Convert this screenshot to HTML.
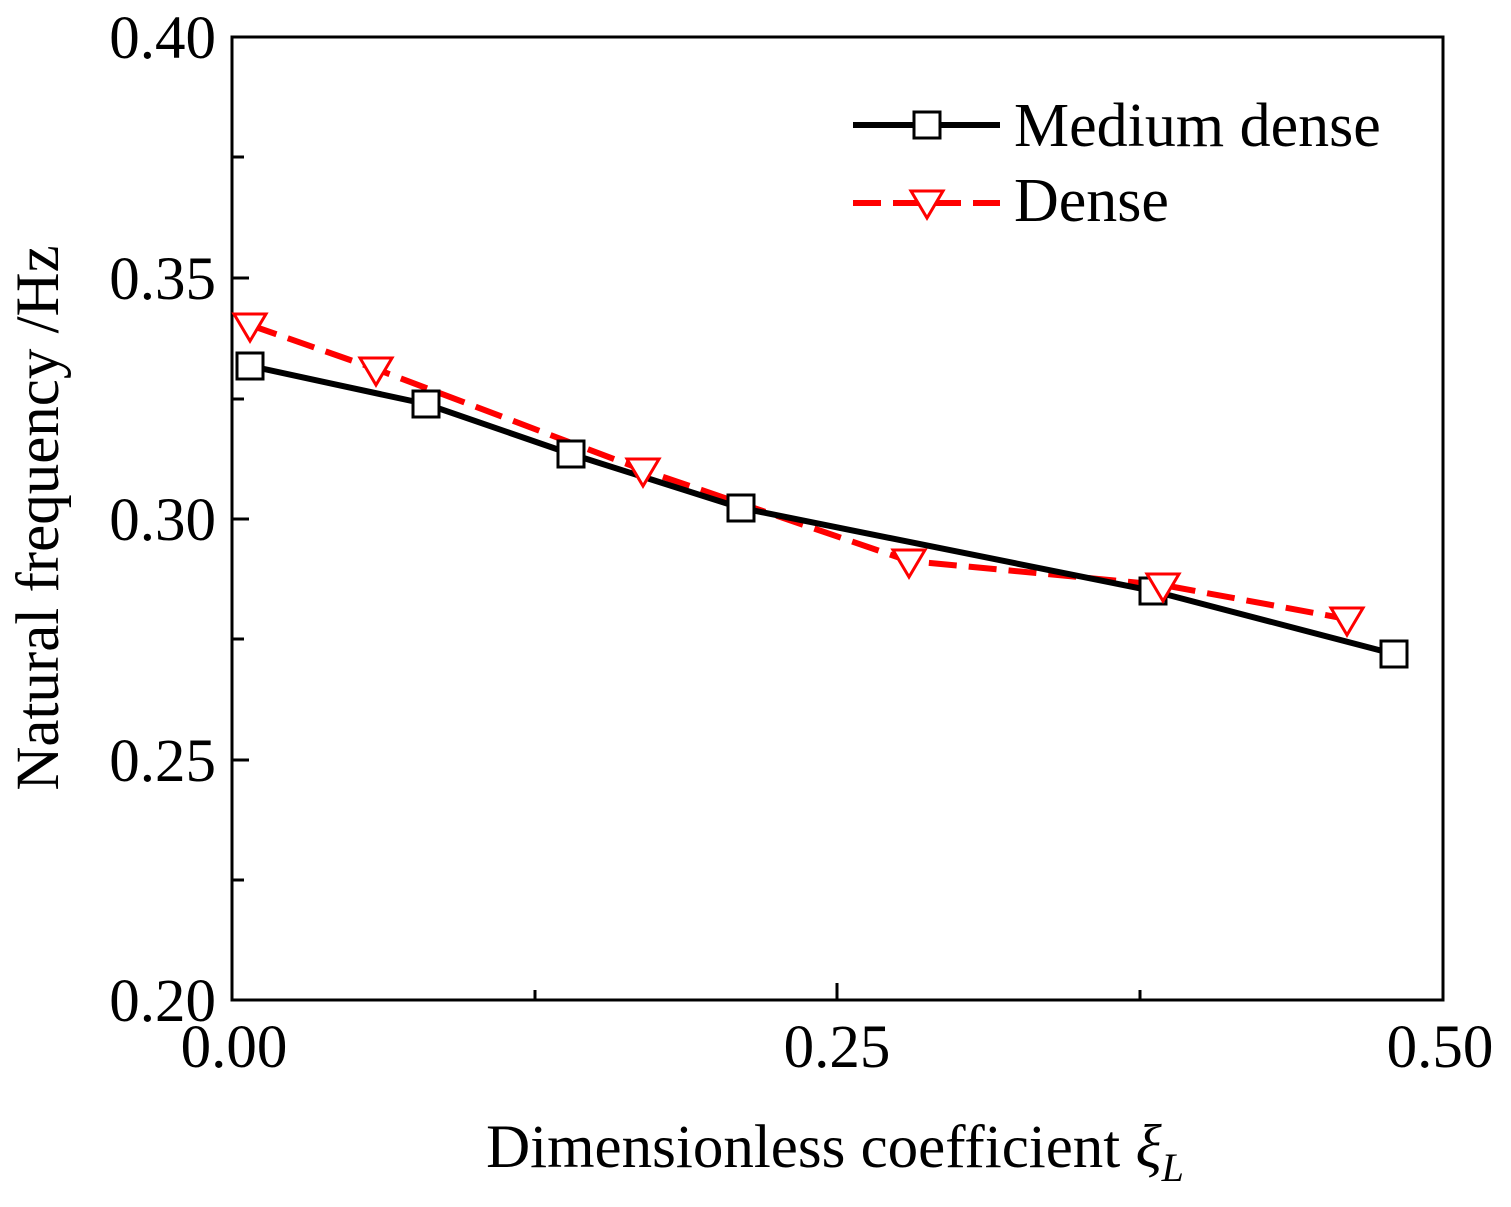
<!DOCTYPE html>
<html><head><meta charset="utf-8"><style>body{margin:0;background:#fff}</style></head><body>
<svg width="1511" height="1202" xmlns="http://www.w3.org/2000/svg" font-family="Liberation Serif, serif">
<rect width="1511" height="1202" fill="#fff"/>
<g stroke="#000" stroke-width="3" fill="none">
<rect x="232" y="37" width="1211" height="963"/>
<line x1="535" y1="1000" x2="535" y2="990"/><line x1="837" y1="1000" x2="837" y2="983"/><line x1="1140" y1="1000" x2="1140" y2="990"/>
<line x1="232" y1="157" x2="244" y2="157"/><line x1="232" y1="278" x2="249" y2="278"/><line x1="232" y1="399" x2="244" y2="399"/><line x1="232" y1="519" x2="249" y2="519"/><line x1="232" y1="639" x2="244" y2="639"/><line x1="232" y1="760" x2="249" y2="760"/><line x1="232" y1="880" x2="244" y2="880"/>
</g>
<g font-size="61" text-anchor="end">
<text x="216" y="58">0.40</text><text x="216" y="299">0.35</text><text x="216" y="540">0.30</text><text x="216" y="781">0.25</text><text x="216" y="1021">0.20</text>
</g>
<g font-size="61" text-anchor="middle">
<text x="234" y="1067">0.00</text><text x="837" y="1067">0.25</text><text x="1440" y="1067">0.50</text>
<text x="835" y="1167">Dimensionless coefficient <tspan font-style="italic">ξ</tspan><tspan font-style="italic" font-size="40" dy="14">L</tspan></text>
<text transform="translate(58,518) rotate(-90)">Natural frequency /Hz</text>
</g>
<polyline points="250,325 376,369 643,470 909,561 1163,585 1347,619" fill="none" stroke="#f00" stroke-width="6" stroke-dasharray="28,12"/>
<polyline points="250,366 426,404 571,454 741,508 1153,591 1394,654" fill="none" stroke="#000" stroke-width="6"/>
<g fill="#fff" stroke="#000" stroke-width="3">
<rect x="237" y="353" width="26" height="26"/><rect x="413" y="391" width="26" height="26"/><rect x="558" y="441" width="26" height="26"/><rect x="728" y="495" width="26" height="26"/><rect x="1140" y="578" width="26" height="26"/><rect x="1381" y="641" width="26" height="26"/>
</g>
<g fill="#fff" stroke="#f00" stroke-width="3">
<path d="M234,314 L266,314 L250,341Z"/><path d="M360,358 L392,358 L376,385Z"/><path d="M627,459 L659,459 L643,486Z"/><path d="M893,550 L925,550 L909,577Z"/><path d="M1147,574 L1179,574 L1163,601Z"/><path d="M1331,608 L1363,608 L1347,635Z"/>
</g>
<line x1="853" y1="125" x2="1000" y2="125" stroke="#000" stroke-width="6"/>
<rect x="914" y="112" width="26" height="26" fill="#fff" stroke="#000" stroke-width="3"/>
<line x1="853" y1="203" x2="1000" y2="203" stroke="#f00" stroke-width="6" stroke-dasharray="28,12"/>
<path d="M911,191 L943,191 L927,218Z" fill="#fff" stroke="#f00" stroke-width="3"/>
<g font-size="62"><text x="1014" y="146">Medium dense</text><text x="1014" y="221">Dense</text></g>
</svg>
</body></html>
